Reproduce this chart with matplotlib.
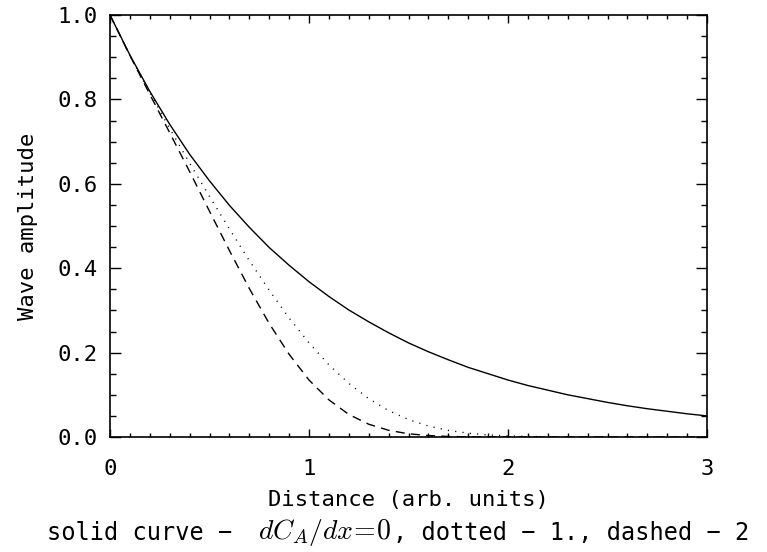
import matplotlib
matplotlib.use("Agg")
import matplotlib.pyplot as plt
from matplotlib.ticker import MultipleLocator

# Values
distance = [0.0, 0.1, 0.2, 0.3, 0.4, 0.5, 0.6, 0.7, 0.8, 0.9,
            1.0, 1.1, 1.2, 1.3, 1.4, 1.5, 1.6, 1.7, 1.8, 1.9,
            2.0, 2.1, 2.2, 2.3, 2.4, 2.5, 2.6, 2.7, 2.8, 2.9, 3.0]
solid = [1.000, 0.905, 0.819, 0.741, 0.670, 0.607, 0.549, 0.497, 0.449, 0.407,
         0.368, 0.333, 0.301, 0.273, 0.247, 0.223, 0.202, 0.183, 0.165, 0.150,
         0.135, 0.122, 0.111, 0.100, 0.091, 0.082, 0.074, 0.067, 0.061, 0.055, 0.050]
dotted = [1.000, 0.904, 0.816, 0.731, 0.649, 0.570, 0.493, 0.418, 0.348, 0.282,
          0.223, 0.171, 0.127, 0.091, 0.0625, 0.0413, 0.0260, 0.0157, 0.0090, 0.0048,
          0.0025, 0.0012, 0.0005, 0.0002, 0.0001, 0.0, 0.0, 0.0, 0.0, 0.0, 0.0]
dashed = [1.000, 0.904, 0.812, 0.721, 0.629, 0.535, 0.442, 0.352, 0.269, 0.196,
          0.135, 0.088, 0.0535, 0.0303, 0.0159, 0.0076, 0.0034, 0.0013, 0.0005, 0.0002,
          0.0, 0.0, 0.0, 0.0, 0.0, 0.0, 0.0, 0.0, 0.0, 0.0, 0.0]

xticks = [0, 1, 2, 3]
xticklabels = ["0", "1", "2", "3"]
yticks = [0.0, 0.2, 0.4, 0.6, 0.8, 1.0]
yticklabels = ["0.0", "0.2", "0.4", "0.6", "0.8", "1.0"]

plt.rcParams['font.family'] = ['DejaVu Sans Mono']
plt.rcParams['mathtext.fontset'] = 'cm'

FS = 16

fig = plt.figure(figsize=(7.67, 5.52), dpi=100)
ax = fig.add_axes([110/767, 1 - 437/552, (707-110)/767, (437-15)/552])

ax.plot(distance, solid, color='black', lw=1.0, solid_joinstyle='round')
ax.plot(distance, dotted, color='black', lw=1.0, linestyle=(0, (0.8, 4.5)))
ax.plot(distance, dashed, color='black', lw=1.0, linestyle=(0, (6.5, 4.5)))

ax.set_xlim(0, 3)
ax.set_ylim(0, 1.0)
ax.set_xticks(xticks)
ax.set_xticklabels(xticklabels)
ax.set_yticks(yticks)
ax.set_yticklabels(yticklabels)
ax.xaxis.set_minor_locator(MultipleLocator(0.1))
ax.yaxis.set_minor_locator(MultipleLocator(0.05))

ax.tick_params(axis='x', which='major', direction='in', length=5.8, width=1.0,
               top=True, bottom=True, labelsize=FS, pad=16)
ax.tick_params(axis='x', which='minor', direction='in', length=2.9, width=1.0,
               top=True, bottom=True)
ax.tick_params(axis='y', which='major', direction='in', length=8, width=1.0,
               left=True, right=True, labelsize=FS, pad=9)
ax.tick_params(axis='y', which='minor', direction='in', length=4.3, width=1.0,
               left=True, right=True)
for s in ax.spines.values():
    s.set_linewidth(1.2)

ax.set_ylabel("Wave amplitude", fontsize=FS, labelpad=14)
ax.set_xlabel("Distance (arb. units)", fontsize=FS, labelpad=8)

ybase = 1 - 533/552
fig.text(47/767, ybase, "solid curve \u2212", fontsize=FS + 1, ha='left', va='center')
fig.text(258/767, ybase, r"$dC_A/dx\!=\!0$", fontsize=20, ha='left', va='center')
fig.text(393/767, ybase, ", dotted \u2212 1., dashed \u2212 2", fontsize=FS + 1,
         ha='left', va='center')

fig.savefig("out.png", dpi=100)
